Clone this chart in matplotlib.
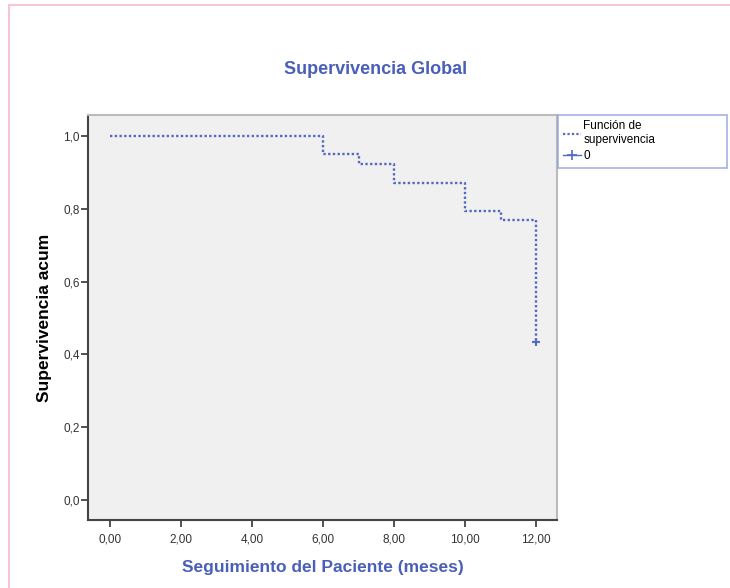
import matplotlib.pyplot as plt
from matplotlib.lines import Line2D
from matplotlib.patches import Rectangle
from matplotlib.ticker import FuncFormatter

# survival steps
tiempos = [0, 6, 7, 8, 10, 11, 12]
supervivencia = [1.0, 0.95, 0.923, 0.871, 0.795, 0.770, 0.433]
censura_t = [12]
censura_s = [0.433]

x_ticks = [0, 2, 4, 6, 8, 10, 12]
y_ticks = [0.0, 0.2, 0.4, 0.6, 0.8, 1.0]

azul = "#5469c2"
azul_texto = "#4a5fb8"

plt.rcParams["font.family"] = ["Liberation Sans", "DejaVu Sans"]


def main():
    fig = plt.figure(figsize=(7.3, 5.88), dpi=100)
    fig.patch.set_facecolor("white")

    # pink frame around the output
    fig.patches.append(Rectangle((9 / 730, -0.01), 1.1, (583 / 588) + 0.01,
                                 transform=fig.transFigure, fill=False,
                                 edgecolor="#f2c6d8", linewidth=1.5))

    ax = fig.add_axes([88 / 730, 68 / 588, (557 - 88) / 730, (520 - 115) / 588])
    ax.set_facecolor("#f0f0f0")

    ax.step(tiempos, supervivencia, where="post", color=azul,
            linestyle=(0, (1, 1)), linewidth=1.7)
    ax.plot(censura_t, censura_s, linestyle="none", marker="+",
            markersize=6, markeredgewidth=1.5, color=azul)

    ax.set_xlim(-0.62, 12.59)
    ax.set_ylim(-0.055, 1.058)
    ax.set_xticks(x_ticks)
    ax.set_yticks(y_ticks)
    ax.xaxis.set_major_formatter(FuncFormatter(lambda v, p: f"{v:.2f}".replace(".", ",")))
    ax.yaxis.set_major_formatter(FuncFormatter(lambda v, p: f"{v:.1f}".replace(".", ",")))
    ax.tick_params(axis="both", direction="out", length=5, width=1.2,
                   color="#333333", labelsize=8.5, labelcolor="#333333", pad=1)
    ax.tick_params(axis="x", pad=5)

    for lado in ["left", "bottom"]:
        ax.spines[lado].set_color("#444444")
        ax.spines[lado].set_linewidth(1.5)
    for lado in ["top", "right"]:
        ax.spines[lado].set_color("#bbbbbb")
        ax.spines[lado].set_linewidth(1.5)

    ax.set_xlabel("Seguimiento del Paciente (meses)", color=azul_texto,
                  fontsize=12.5, fontweight="bold", labelpad=10)
    ax.set_ylabel("Supervivencia acum", color="black", fontsize=12.5,
                  fontweight="bold", labelpad=8)
    fig.text(376 / 730, 1 - 69 / 588, "Supervivencia Global", color=azul_texto,
             fontsize=13, fontweight="bold", ha="center", va="center")

    handles = [
        Line2D([], [], color=azul, linestyle=(0, (1, 1)), linewidth=1.6),
        Line2D([], [], color=azul, linestyle="-", linewidth=1, marker="+",
               markersize=7, markeredgewidth=1.2),
    ]
    leg = ax.legend(handles, ["Función de\nsupervivencia", "0"],
                    loc="upper left", bbox_to_anchor=(1.002, 0.0, 0.36, 1.0),
                    mode="expand", fontsize=8.5, frameon=True, fancybox=False,
                    handlelength=1.5, handletextpad=0.2, borderaxespad=0,
                    labelspacing=0.35, borderpad=0.45)
    leg.get_frame().set_edgecolor("#8f9ee0")
    leg.get_frame().set_linewidth(1.2)

    plt.savefig("out.png", dpi=100)


if __name__ == "__main__":
    main()
